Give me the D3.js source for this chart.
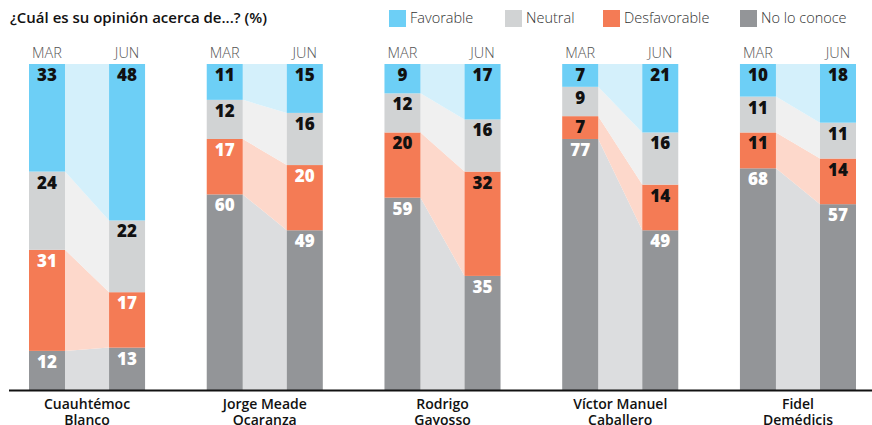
<!DOCTYPE html>
<html>
<head>
<meta charset="utf-8">
<script src="https://cdn.jsdelivr.net/npm/d3@7"></script>
<style>
  body { margin: 0; background: #fff; }
  svg { display: block; font-family: "Open Sans", Lato, sans-serif; }
</style>
</head>
<body>
<svg id="chart" width="872" height="425"></svg>
<script>
// data
const candidates = ["Cuauhtémoc Blanco", "Jorge Meade Ocaranza", "Rodrigo Gayosso", "Víctor Manuel Caballero", "Fidel Demédicis"];
const nameLines = [["Cuauhtémoc", "Blanco"], ["Jorge Meade", "Ocaranza"], ["Rodrigo", "Gayosso"], ["Víctor Manuel", "Caballero"], ["Fidel", "Demédicis"]];
const periods = ["MAR", "JUN"];
const categories = ["No lo conoce", "Desfavorable", "Neutral", "Favorable"]; // bottom -> top
const legendOrder = ["Favorable", "Neutral", "Desfavorable", "No lo conoce"];

const favorable   = { MAR: [33, 11, 9, 7, 10],   JUN: [48, 15, 17, 21, 18] };
const neutral     = { MAR: [24, 12, 12, 9, 11],  JUN: [22, 16, 16, 16, 11] };
const desfavorable = { MAR: [31, 17, 20, 7, 11], JUN: [17, 20, 32, 14, 14] };
const noLoConoce  = { MAR: [12, 60, 59, 77, 68], JUN: [13, 49, 35, 49, 57] };

const series = {
  "Favorable": favorable,
  "Neutral": neutral,
  "Desfavorable": desfavorable,
  "No lo conoce": noLoConoce
};

const barColor = {
  "Favorable": "#6dcff6",
  "Neutral": "#d1d3d4",
  "Desfavorable": "#f47b55",
  "No lo conoce": "#939598"
};
const bandColor = {
  "Favorable": "#d4f0fb",
  "Neutral": "#f0f0f0",
  "Desfavorable": "#fdd8cb",
  "No lo conoce": "#dcdddf"
};
const labelColor = {
  "Favorable": () => "#111",
  "Neutral": () => "#111",
  "Desfavorable": i => i < 2 ? "#fff" : "#111",
  "No lo conoce": () => "#fff"
};

const svg = d3.select("#chart");

const x = d3.scaleBand()
  .domain(candidates)
  .range([29, 856])
  .paddingInner(0.347)
  .paddingOuter(0);

const barW = 36;
const xp = d3.scalePoint()
  .domain(periods)
  .range([0, x.bandwidth() - barW]);

const y = d3.scaleLinear().domain([0, 100]).range([390, 64]);

// build stacked rows per candidate/period
const rows = [];
candidates.forEach((c, i) => {
  periods.forEach(p => {
    let acc = 0;
    categories.forEach(cat => {
      const v = series[cat][p][i];
      rows.push({ c, i, p, cat, v, y0: acc, y1: acc + v });
      acc += v;
    });
  });
});

const find = (i, p, cat) => rows.find(r => r.i === i && r.p === p && r.cat === cat);

// connecting bands
const bands = svg.append("g");
candidates.forEach((c, i) => {
  categories.forEach(cat => {
    const a = find(i, "MAR", cat), b = find(i, "JUN", cat);
    const xa = x(c) + xp("MAR") + barW, xb = x(c) + xp("JUN");
    bands.append("path")
      .attr("fill", bandColor[cat])
      .attr("d", `M${xa},${y(a.y1)}L${xb},${y(b.y1)}L${xb},${y(b.y0)}L${xa},${y(a.y0)}Z`);
  });
});

// bars
svg.append("g")
  .selectAll("rect")
  .data(rows)
  .join("rect")
  .attr("x", d => x(d.c) + xp(d.p))
  .attr("width", barW)
  .attr("y", d => y(d.y1))
  .attr("height", d => y(d.y0) - y(d.y1))
  .attr("fill", d => barColor[d.cat]);

// value labels
svg.append("g")
  .attr("font-size", 17)
  .attr("font-weight", 800)
  .attr("text-anchor", "middle")
  .selectAll("text")
  .data(rows)
  .join("text")
  .attr("x", d => x(d.c) + xp(d.p) + barW / 2)
  .attr("y", d => y(d.y1) + 17)
  .attr("fill", d => labelColor[d.cat](d.i))
  .text(d => d.v);

// period labels
candidates.forEach(c => {
  periods.forEach(p => {
    svg.append("text")
      .attr("x", x(c) + xp(p) + barW / 2)
      .attr("y", 58)
      .attr("text-anchor", "middle")
      .attr("font-size", 14.5)
      .attr("font-weight", 300)
      .attr("fill", "#555")
      .text(p);
  });
});

// baseline
svg.append("line")
  .attr("x1", 9).attr("x2", 872)
  .attr("y1", 390.5).attr("y2", 390.5)
  .attr("stroke", "#111")
  .attr("stroke-width", 2);

// candidate names
const names = svg.append("g")
  .attr("font-size", 14)
  .attr("font-weight", 600)
  .attr("text-anchor", "middle")
  .attr("fill", "#111");
candidates.forEach((c, i) => {
  const t = names.append("text")
    .attr("x", x(c) + x.bandwidth() / 2)
    .attr("y", 409);
  nameLines[i].forEach((ln, k) => {
    t.append("tspan")
      .attr("x", x(c) + x.bandwidth() / 2)
      .attr("dy", k === 0 ? 0 : 16)
      .text(ln);
  });
});

// title
svg.append("text")
  .attr("x", 10).attr("y", 23)
  .attr("font-size", 15)
  .attr("font-weight", 600)
  .attr("fill", "#111")
  .text("¿Cuál es su opinión acerca de...? (%)");

// legend
const legendX = [389, 505, 603, 740];
const legend = svg.append("g");
legendOrder.forEach((cat, k) => {
  legend.append("rect")
    .attr("x", legendX[k]).attr("y", 10)
    .attr("width", 17).attr("height", 17)
    .attr("fill", barColor[cat]);
  legend.append("text")
    .attr("x", legendX[k] + 21).attr("y", 23)
    .attr("font-size", 14.5)
    .attr("font-weight", 300)
    .attr("fill", "#333")
    .text(cat);
});
</script>
</body>
</html>
